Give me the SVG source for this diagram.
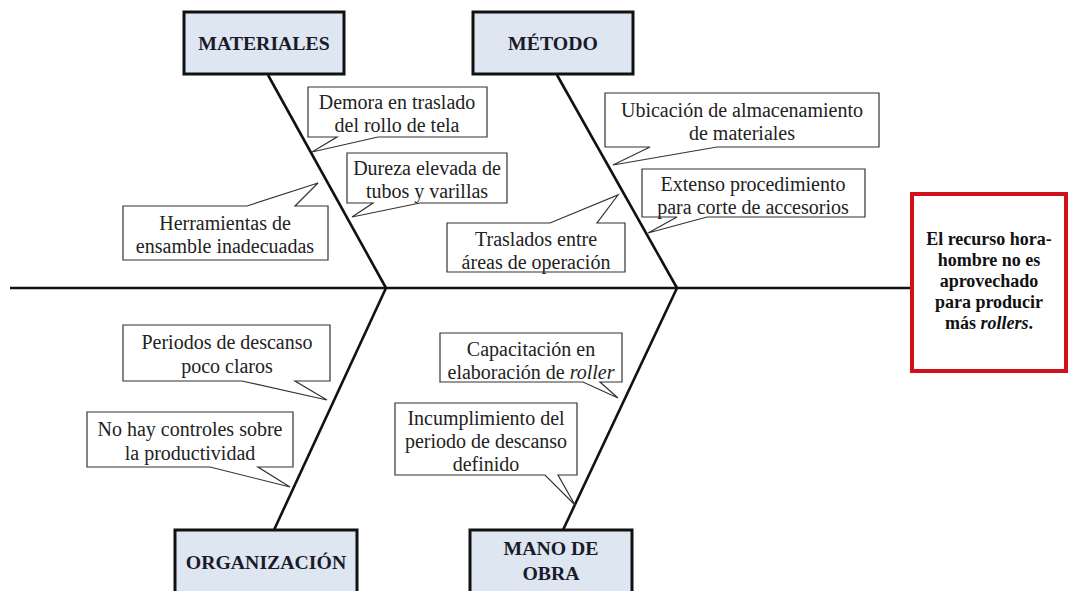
<svg xmlns="http://www.w3.org/2000/svg" width="1070" height="591" viewBox="0 0 1070 591">
  <style>
    text { font-family: "Liberation Serif", "Times New Roman", serif; text-anchor: middle; }
    .cat rect { fill: #dde6f1; stroke: #111; stroke-width: 3; }
    .cat text { font-weight: bold; font-size: 19.8px; fill: #1a1a2a; }
    .bone { stroke: #111; stroke-width: 2.6; fill: none; }
    .note path { fill: #fff; stroke: #333; stroke-width: 1.2; }
    .note text { font-size: 20px; fill: #222; }
    .effect rect { fill: #fff; stroke: #d0101a; stroke-width: 4; }
    .effect text { font-weight: bold; font-size: 18px; fill: #111; }
  </style>
  <rect x="0" y="0" width="1070" height="591" fill="#fff"/>

  <!-- spine and bones -->
  <g id="connectors">
    <line class="bone" x1="10" y1="288" x2="911" y2="288"/>
    <line class="bone" x1="268" y1="75" x2="386" y2="288"/>
    <line class="bone" x1="557" y1="75" x2="677" y2="288"/>
    <line class="bone" x1="386" y1="288" x2="274" y2="530"/>
    <line class="bone" x1="677" y1="288" x2="563" y2="530"/>
  </g>

  <!-- category heads -->
  <g id="materiales" class="cat">
    <rect x="184" y="12" width="160" height="62"/>
    <text x="264" y="50">MATERIALES</text>
  </g>
  <g id="metodo" class="cat">
    <rect x="473" y="12" width="160" height="62"/>
    <text x="553" y="50">MÉTODO</text>
  </g>
  <g id="organizacion" class="cat">
    <rect x="175" y="530" width="182" height="64"/>
    <text x="266" y="569">ORGANIZACIÓN</text>
  </g>
  <g id="mano-de-obra" class="cat">
    <rect x="470" y="530" width="162" height="64"/>
    <text x="551" y="555">MANO DE</text>
    <text x="551" y="580">OBRA</text>
  </g>

  <!-- effect -->
  <g id="efecto" class="effect">
    <rect x="912" y="194" width="154" height="177"/>
    <text x="989" y="245">El recurso hora-</text>
    <text x="989" y="266">hombre no es</text>
    <text x="989" y="287">aprovechado</text>
    <text x="989" y="308">para producir</text>
    <text x="989" y="329">más <tspan font-style="italic">rollers</tspan>.</text>
  </g>

  <!-- causes -->
  <g id="c-demora" class="note">
    <path d="M308,87 H487 V137 H378 L312,152 L337,137 H308 Z"/>
    <text x="397" y="109">Demora en traslado</text>
    <text x="397" y="132">del rollo de tela</text>
  </g>
  <g id="c-dureza" class="note">
    <path d="M347,153 H507 V203 H420 L352,217 L373,203 H347 Z"/>
    <text x="427" y="175">Dureza elevada de</text>
    <text x="427" y="198">tubos y varillas</text>
  </g>
  <g id="c-herramientas" class="note">
    <path d="M123,206 H247 L318,183 L295,206 H328 V260 H123 Z"/>
    <text x="225" y="230">Herramientas de</text>
    <text x="225" y="253">ensamble inadecuadas</text>
  </g>
  <g id="c-ubicacion" class="note">
    <path d="M605,93 H879 V147 H717 L613,165 L650,147 H605 Z"/>
    <text x="742" y="117">Ubicación de almacenamiento</text>
    <text x="742" y="140">de materiales</text>
  </g>
  <g id="c-extenso" class="note">
    <path d="M642,169 H865 V217 H707 L648,233 L677,217 H642 Z"/>
    <text x="753" y="191">Extenso procedimiento</text>
    <text x="753" y="214">para corte de accesorios</text>
  </g>
  <g id="c-traslados" class="note">
    <path d="M447,223 H550 L618,195 L597,223 H625 V272 H447 Z"/>
    <text x="536" y="246">Traslados entre</text>
    <text x="536" y="269">áreas de operación</text>
  </g>
  <g id="c-periodos" class="note">
    <path d="M123,325 H330 V381 H295 L327,400 L242,381 H123 Z"/>
    <text x="227" y="349">Periodos de descanso</text>
    <text x="227" y="373">poco claros</text>
  </g>
  <g id="c-controles" class="note">
    <path d="M87,412 H293 V467 H258 L290,487 L210,467 H87 Z"/>
    <text x="190" y="436">No hay controles sobre</text>
    <text x="190" y="460">la productividad</text>
  </g>
  <g id="c-capacitacion" class="note">
    <path d="M440,333 H622 V382 H600 L618,398 L583,382 H440 Z"/>
    <text x="531" y="356">Capacitación en</text>
    <text x="531" y="379">elaboración de <tspan font-style="italic">roller</tspan></text>
  </g>
  <g id="c-incumplimiento" class="note">
    <path d="M395,403 H577 V475 H558 L575,505 L545,475 H395 Z"/>
    <text x="486" y="425">Incumplimiento del</text>
    <text x="486" y="448">periodo de descanso</text>
    <text x="486" y="471">definido</text>
  </g>
</svg>
